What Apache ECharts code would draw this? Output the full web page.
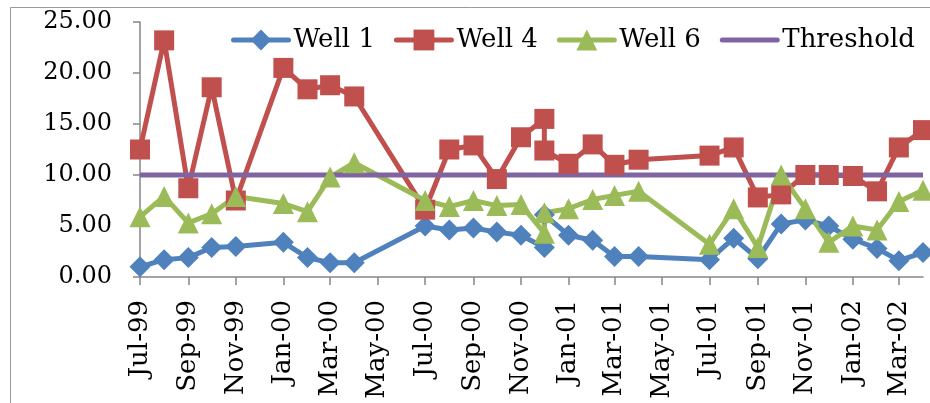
<!DOCTYPE html>
<html>
<head>
<meta charset="utf-8">
<script src="https://cdn.jsdelivr.net/npm/echarts@6/dist/echarts.min.js"></script>
<style>
  html, body { margin: 0; padding: 0; background: #fff; }
  #chart { width: 930px; height: 403px; }
</style>
</head>
<body>
<div id="chart"></div>
<script>
// Sampling dates (two samples were taken in December 2000)
const sampleDates = [
  '1999-07-01', '1999-08-01', '1999-09-01', '1999-10-01', '1999-11-01',
  '2000-01-01', '2000-02-01', '2000-03-01', '2000-04-01',
  '2000-07-01', '2000-08-01', '2000-09-01', '2000-10-01', '2000-11-01',
  '2000-12-01', '2000-12-01',
  '2001-01-01', '2001-02-01', '2001-03-01', '2001-04-01',
  '2001-07-01', '2001-08-01', '2001-09-01', '2001-10-01', '2001-11-01', '2001-12-01',
  '2002-01-01', '2002-02-01', '2002-03-01', '2002-04-01'
];

const well1 = [1.0, 1.7, 1.9, 2.9, 3.0, 3.4, 1.9, 1.4, 1.4, 5.0, 4.6, 4.8, 4.4, 4.1, 2.9, 6.1,
  4.1, 3.6, 2.0, 2.0, 1.7, 3.8, 1.8, 5.2, 5.6, 5.0, 3.7, 2.8, 1.6, 2.4];
const well4 = [12.5, 23.2, 8.7, 18.6, 7.5, 20.5, 18.4, 18.8, 17.7, 6.6, 12.5, 12.9, 9.6, 13.7, 15.5, 12.4,
  11.1, 13.0, 11.0, 11.5, 11.9, 12.7, 7.8, 8.1, 10.0, 10.0, 9.9, 8.4, 12.7, 14.4];
const well6 = [5.9, 7.9, 5.3, 6.2, 7.9, 7.2, 6.4, 9.8, 11.2, 7.5, 6.9, 7.5, 7.0, 7.1, 4.3, 6.3,
  6.7, 7.6, 8.0, 8.4, 3.2, 6.7, 2.9, 10.0, 6.7, 3.4, 5.0, 4.6, 7.4, 8.5];

// Threshold level drawn across the whole period
const thresholdDates = ['1999-07-01', '2002-04-01'];
const thresholdValues = [10, 10];

// Axis extent and tick positions
const axisStart = '1999-07-01';
const axisEnd = '2002-04-01';
const tickDates = [
  '1999-07-01', '1999-09-01', '1999-11-01', '2000-01-01', '2000-03-01', '2000-05-01',
  '2000-07-01', '2000-09-01', '2000-11-01', '2001-01-01', '2001-03-01', '2001-05-01',
  '2001-07-01', '2001-09-01', '2001-11-01', '2002-01-01', '2002-03-01'
];
const monthNames = ['Jan', 'Feb', 'Mar', 'Apr', 'May', 'Jun', 'Jul', 'Aug', 'Sep', 'Oct', 'Nov', 'Dec'];

const ts = s => new Date(s + 'T00:00:00Z').getTime();
const pairs = (xs, ys) => xs.map((d, i) => [ts(d), ys[i]]);
const fmtDate = v => {
  const d = new Date(v);
  return monthNames[d.getUTCMonth()] + '-' + String(d.getUTCFullYear() % 100).padStart(2, '0');
};

const FONT = 'DejaVu Serif';
const AXIS_GRAY = '#868686';

const chart = echarts.init(document.getElementById('chart'), null, { renderer: 'canvas' });

chart.setOption({
  animation: false,
  backgroundColor: '#ffffff',
  graphic: [{
    type: 'rect',
    left: 8, top: 5,
    shape: { width: 960, height: 440 },
    style: { fill: 'none', stroke: '#9a9a9a', lineWidth: 1 },
    silent: true, z: -1
  }],
  grid: { left: 140, right: 7, top: 22, bottom: 126, containLabel: false },
  legend: {
    left: 226, top: 22,
    itemWidth: 55, itemHeight: 26, itemGap: 19,
    lineStyle: { width: 5, cap: 'round' },
    textStyle: { fontFamily: FONT, fontSize: 26, color: '#000' },
    data: [
      'Well 1', 'Well 4', 'Well 6',
      { name: 'Threshold', itemStyle: { color: 'rgba(0,0,0,0)', borderWidth: 0 } }
    ]
  },
  xAxis: {
    type: 'value',
    min: ts(axisStart), max: ts(axisEnd),
    splitLine: { show: false },
    axisLine: { show: true, onZero: false, lineStyle: { color: AXIS_GRAY, width: 1.5 } },
    axisTick: { show: true, length: 8, inside: false, customValues: tickDates.map(ts),
      lineStyle: { color: AXIS_GRAY, width: 1.5 } },
    axisLabel: {
      customValues: tickDates.map(ts),
      rotate: 90, margin: 23,
      fontFamily: FONT, fontSize: 26, color: '#000',
      formatter: fmtDate
    }
  },
  yAxis: {
    type: 'value', min: 0, max: 25, interval: 5,
    splitLine: { show: false },
    axisLine: { show: true, lineStyle: { color: AXIS_GRAY, width: 1.5 } },
    axisTick: { show: true, length: 7, lineStyle: { color: AXIS_GRAY, width: 1.5 } },
    axisLabel: {
      margin: 28, fontFamily: FONT, fontSize: 24, color: '#000',
      formatter: v => v.toFixed(2)
    }
  },
  series: [
    {
      name: 'Well 1', type: 'line', data: pairs(sampleDates, well1),
      symbol: 'diamond', symbolSize: 21,
      lineStyle: { color: '#4F81BD', width: 5 },
      itemStyle: { color: '#4F81BD' }
    },
    {
      name: 'Well 4', type: 'line', data: pairs(sampleDates, well4),
      symbol: 'rect', symbolSize: 20,
      lineStyle: { color: '#C0504D', width: 5 },
      itemStyle: { color: '#C0504D' }
    },
    {
      name: 'Well 6', type: 'line', data: pairs(sampleDates, well6),
      symbol: 'triangle', symbolSize: 21,
      lineStyle: { color: '#9BBB59', width: 5 },
      itemStyle: { color: '#9BBB59' }
    },
    {
      name: 'Threshold', type: 'line', data: pairs(thresholdDates, thresholdValues),
      symbol: 'none', showSymbol: false,
      lineStyle: { color: '#8064A2', width: 5 },
      itemStyle: { color: '#8064A2' }
    }
  ]
});
</script>
</body>
</html>
